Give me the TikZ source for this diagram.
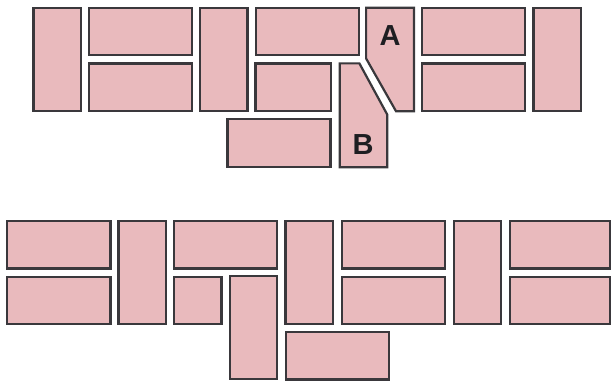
\documentclass[tikz,border=0pt]{standalone}
\usepackage{fontspec}
\setsansfont{Liberation Sans}
\definecolor{brickfill}{RGB}{233,186,189}
\definecolor{brickline}{RGB}{58,56,60}
\definecolor{tagink}{RGB}{30,30,34}
\begin{document}
\begin{tikzpicture}[x=1pt, y=-1pt,
  brick/.style={rectangle, draw=brickline, fill=brickfill, line width=2.2pt, inner sep=0pt},
  brickh/.style={brick, minimum width=103.1pt, minimum height=47.4pt},
  brickv/.style={brick, minimum width=47.5pt, minimum height=103.1pt},
  brickq/.style={brick, minimum width=47.5pt, minimum height=47.4pt},
  cutbrick/.style={draw=brickline, fill=brickfill, line width=2.2pt},
  tag/.style={font=\sffamily\bfseries\fontsize{29}{29}\selectfont, text=tagink, inner sep=0pt}
]
\useasboundingbox (0,0) rectangle (612,382);
\node[brickv] (t1) at (57.2,59.5) {};
\node[brickh] (t2) at (140.3,31.5) {};
\node[brickh] (t3) at (140.3,87.3) {};
\node[brickv] (t4) at (223.8,59.5) {};
\node[brickh] (t5) at (307.2,31.5) {};
\node[brickq, minimum width=75.2pt] (t6) at (293,87.3) {};
\node[brickh] (t7) at (279,143) {};
\draw[cutbrick] (366.1,7.8) -- (413.9,7.8) -- (413.9,111.2) -- (396,111.2) -- (366.1,58.5) -- cycle;
\draw[cutbrick] (339.8,63.4) -- (359.4,63.4) -- (387.2,114.5) -- (387.2,167.2) -- (339.8,167.2) -- cycle;
\node[tag] (a) at (390,36) {A};
\node[tag] (b) at (363,145) {B};
\node[brickh] (t8) at (473.8,31.5) {};
\node[brickh] (t9) at (473.8,87.3) {};
\node[brickv] (t10) at (557.3,59.5) {};
\node[brickh] (u1) at (58.9,244.7) {};
\node[brickh] (u2) at (58.9,300.3) {};
\node[brickv] (u3) at (142.2,272.7) {};
\node[brickh] (u4) at (225.4,244.7) {};
\node[brickq] (u5) at (197.7,300.3) {};
\node[brickv] (u6) at (253.4,327.8) {};
\node[brickv] (u7) at (309.3,272.7) {};
\node[brickh] (u8) at (337.2,355.7) {};
\node[brickh] (u9) at (393.4,244.7) {};
\node[brickh] (u10) at (393.4,300.3) {};
\node[brickv] (u11) at (477.5,272.7) {};
\node[brickh, minimum width=100pt] (u12) at (559.9,244.7) {};
\node[brickh, minimum width=100pt] (u13) at (559.9,300.3) {};
\end{tikzpicture}
\end{document}
